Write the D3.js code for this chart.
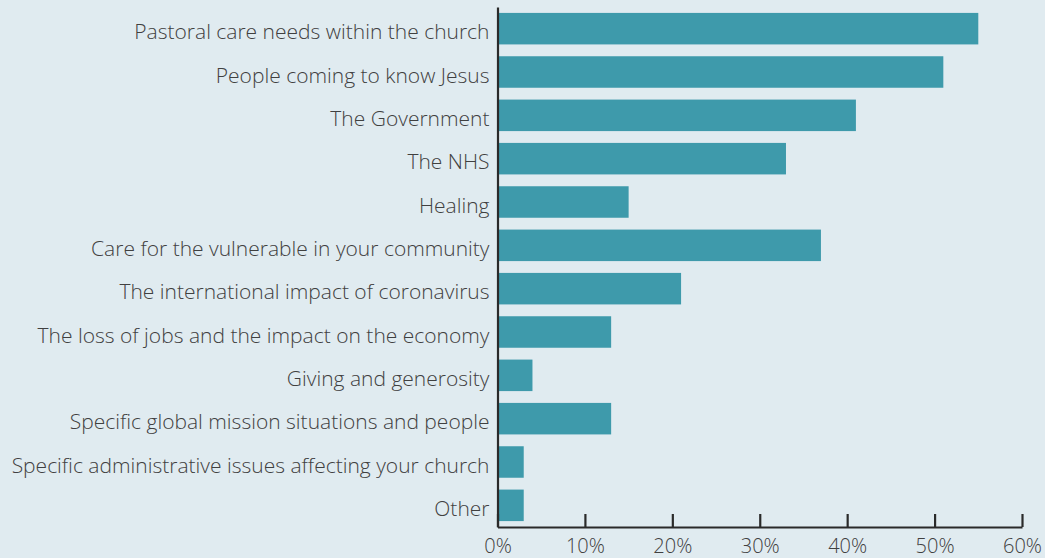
<!DOCTYPE html>
<html><head><meta charset="utf-8">
<script src="https://cdn.jsdelivr.net/npm/d3@7"></script>
<style>html,body{margin:0;padding:0;background:#e0ebf0;}svg{display:block;}</style>
</head><body><svg id="c" width="1045" height="558"></svg>
<script>
const categories = [
  "Pastoral care needs within the church",
  "People coming to know Jesus",
  "The Government",
  "The NHS",
  "Healing",
  "Care for the vulnerable in your community",
  "The international impact of coronavirus",
  "The loss of jobs and the impact on the economy",
  "Giving and generosity",
  "Specific global mission situations and people",
  "Specific administrative issues affecting your church",
  "Other"
];
const values = [55, 51, 41, 33, 15, 37, 21, 13, 4, 13, 3, 3];
const tickValues = [0, 10, 20, 30, 40, 50, 60];

const svg = d3.select("#c");
const x = d3.scaleLinear().domain([0, 60]).range([497.5, 1022]);
const y = d3.scaleBand().domain(categories).range([7, 527]).paddingInner(0.273).paddingOuter(0.1365);

svg.append("g").selectAll("rect").data(values).join("rect")
  .attr("x", x(0)).attr("y", (d, i) => y(categories[i]))
  .attr("width", d => x(d) - x(0)).attr("height", y.bandwidth())
  .attr("fill", "#3e9aab");

const font = "'Open Sans', sans-serif";
const yAxis = svg.append("g").attr("transform", `translate(${x(0)},0)`)
  .call(d3.axisLeft(y).tickSize(0).tickPadding(8));
yAxis.select(".domain").attr("stroke", "#2a2a2a").attr("stroke-width", 2.2);
yAxis.selectAll("text").attr("font-family", font).attr("font-size", 21).attr("fill", "#404040").attr("font-weight", 300).attr("dy", "0.5em");

const xAxis = svg.append("g").attr("transform", `translate(0,527)`)
  .call(d3.axisBottom(x).tickValues(tickValues).tickFormat(d => d + "%").tickSizeInner(-13).tickSizeOuter(0).tickPadding(7));
xAxis.select(".domain").attr("stroke", "#2a2a2a").attr("stroke-width", 2.2);
xAxis.selectAll(".tick line").attr("stroke", "#2a2a2a").attr("stroke-width", 2.2);
xAxis.selectAll("text").attr("font-family", font).attr("font-size", 20).attr("font-weight", 300).attr("fill", "#404040").attr("y", 0).attr("dy", 26);
</script></body></html>
